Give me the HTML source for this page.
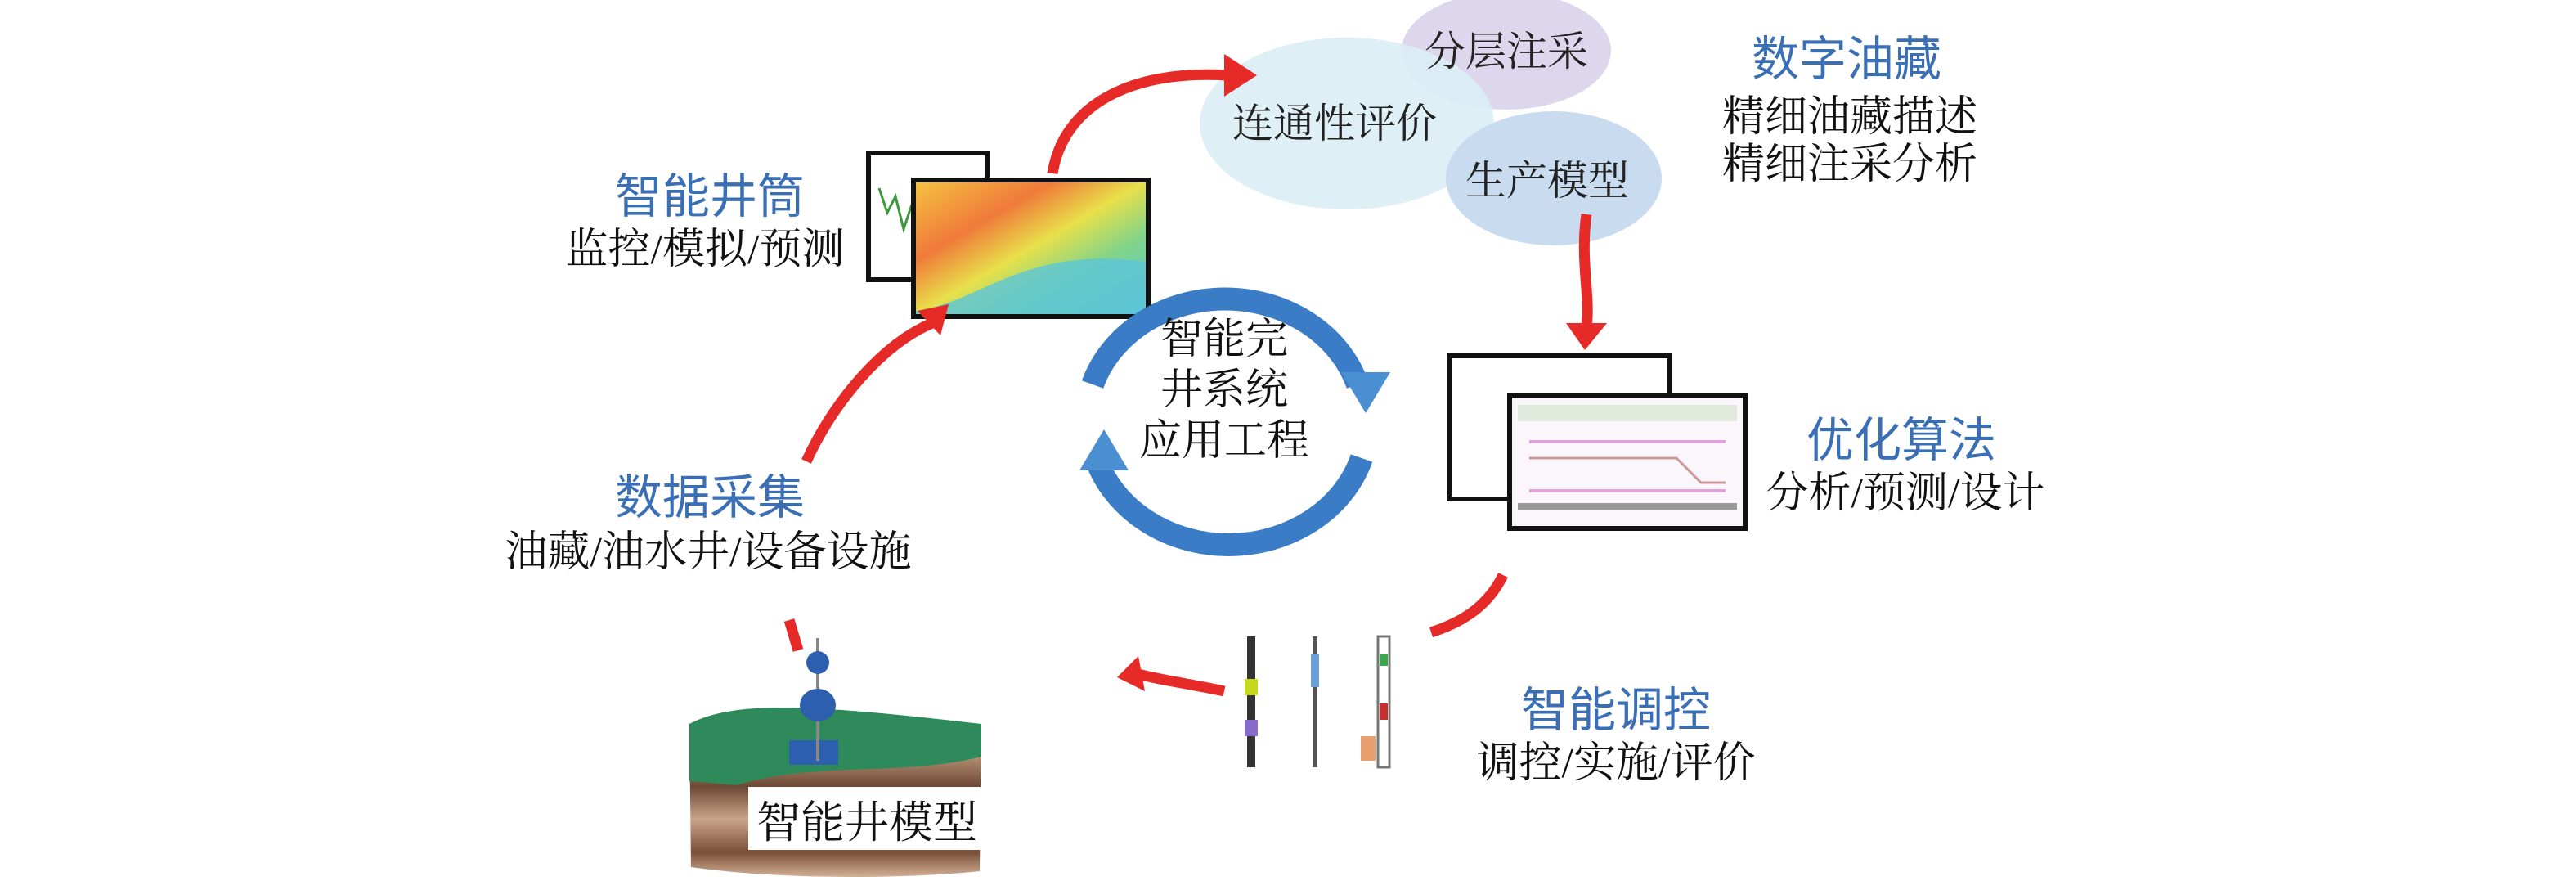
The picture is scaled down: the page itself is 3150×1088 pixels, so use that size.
<!DOCTYPE html>
<html><head><meta charset="utf-8"><style>
html,body{margin:0;padding:0;background:#fff;}
svg text{font-family:"Liberation Serif","Noto Serif CJK SC","Noto Sans CJK SC",serif;}
svg text.b{font-family:"Liberation Sans","Noto Sans CJK SC",sans-serif;fill:#3a6fb5;}
</style></head><body>
<svg width="3150" height="1083" viewBox="0 0 3150 1083" xmlns="http://www.w3.org/2000/svg">
<defs>
<linearGradient id="map" x1="0" y1="0" x2="1" y2="1">
<stop offset="0" stop-color="#f5c542"/><stop offset="0.3" stop-color="#f07a3a"/><stop offset="0.5" stop-color="#e8e04a"/><stop offset="0.7" stop-color="#7fd48a"/><stop offset="1" stop-color="#5cc6d8"/></linearGradient>
<linearGradient id="earth" x1="0" y1="0" x2="0" y2="1">
<stop offset="0" stop-color="#6e4a36"/><stop offset="0.25" stop-color="#b89478"/><stop offset="0.45" stop-color="#6e4a36"/><stop offset="0.65" stop-color="#c9a48a"/><stop offset="0.85" stop-color="#7a5038"/><stop offset="1" stop-color="#d2b096"/></linearGradient>
</defs>

<ellipse cx="1842" cy="62" rx="128" ry="72" fill="#dcd7ec"/>
<ellipse cx="1647" cy="151" rx="180" ry="105" fill="#dbeef5" opacity="0.92"/>
<ellipse cx="1900" cy="218" rx="132" ry="82" fill="#c9dcef"/>
<text x="1842" y="80" font-size="50" text-anchor="middle" fill="#222">分层注采</text>
<text x="1632" y="168" font-size="50" text-anchor="middle" fill="#222">连通性评价</text>
<text x="1892" y="238" font-size="50" text-anchor="middle" fill="#222">生产模型</text>

<text class="b" x="2258" y="92" font-size="58" text-anchor="middle">数字油藏</text>
<text x="2262" y="160" font-size="52" text-anchor="middle" fill="#111">精细油藏描述</text>
<text x="2262" y="218" font-size="52" text-anchor="middle" fill="#111">精细注采分析</text>

<text class="b" x="868" y="260" font-size="58" text-anchor="middle">智能井筒</text>
<text x="862" y="322" font-size="52" text-anchor="middle" fill="#111">监控/模拟/预测</text>

<rect x="1062" y="187" width="145" height="155" fill="#fff" stroke="#111" stroke-width="6"/>
<polyline points="1075,230 1085,260 1095,240 1105,280 1115,250" fill="none" stroke="#3a9a3a" stroke-width="3"/>
<rect x="1117" y="220" width="287" height="167" fill="url(#map)" stroke="#111" stroke-width="6"/>
<path d="M1120,380 C1200,370 1250,300 1401,320 L1401,384 L1120,384Z" fill="#5cc6d8" opacity="0.8"/>

<path d="M1336,470 A170,150 0 0 1 1660,470" fill="none" stroke="#3b7cc6" stroke-width="28"/>
<polygon points="1640,455 1700,455 1670,505" fill="#4a8fd2"/>
<path d="M1665,560 A170,150 0 0 1 1340,560" fill="none" stroke="#3b7cc6" stroke-width="28"/>
<polygon points="1320,575 1380,575 1350,525" fill="#4a8fd2"/>
<text x="1497" y="432" font-size="52" text-anchor="middle" fill="#111">智能完</text>
<text x="1497" y="494" font-size="52" text-anchor="middle" fill="#111">井系统</text>
<text x="1497" y="556" font-size="52" text-anchor="middle" fill="#111">应用工程</text>

<rect x="1772" y="435" width="270" height="175" fill="#fff" stroke="#111" stroke-width="6"/>
<rect x="1846" y="483" width="288" height="163" fill="#fbf6fb" stroke="#111" stroke-width="6"/>
<rect x="1856" y="495" width="268" height="20" fill="#dfe9dc"/>
<path d="M1870,540 L2110,540 M1870,600 L2110,600" stroke="#e0a0d8" stroke-width="4"/>
<path d="M1870,560 L2050,560 2080,590 2110,590" stroke="#c99" stroke-width="3" fill="none"/>
<rect x="1856" y="615" width="268" height="8" fill="#999"/>

<text class="b" x="2325" y="558" font-size="58" text-anchor="middle">优化算法</text>
<text x="2330" y="620" font-size="52" text-anchor="middle" fill="#111">分析/预测/设计</text>

<text class="b" x="868" y="628" font-size="58" text-anchor="middle">数据采集</text>
<text x="866" y="692" font-size="52" text-anchor="middle" fill="#111">油藏/油水井/设备设施</text>

<text class="b" x="1976" y="888" font-size="58" text-anchor="middle">智能调控</text>
<text x="1976" y="950" font-size="52" text-anchor="middle" fill="#111">调控/实施/评价</text>

<rect x="1525" y="778" width="10" height="160" fill="#333"/>
<rect x="1522" y="830" width="16" height="20" fill="#c8d820"/>
<rect x="1522" y="880" width="16" height="20" fill="#8a6acb"/>
<rect x="1605" y="778" width="6" height="160" fill="#555"/>
<rect x="1603" y="800" width="10" height="40" fill="#6aa0d8"/>
<rect x="1685" y="778" width="14" height="160" fill="#fff" stroke="#777" stroke-width="3"/>
<rect x="1687" y="800" width="10" height="14" fill="#3aa84a"/>
<rect x="1687" y="860" width="10" height="20" fill="#c83030"/>
<rect x="1664" y="900" width="18" height="30" fill="#e8a070"/>

<path d="M843,890 C900,860 1000,870 1200,890 L1198,1065 C1100,1075 950,1075 845,1060Z" fill="url(#earth)"/>
<path d="M843,885 C900,855 1000,862 1200,885 L1200,925 C1100,950 1000,930 900,960 L843,955Z" fill="#2e8a5a"/>
<rect x="965" y="905" width="60" height="30" fill="#2d5fae"/>
<line x1="1000" y1="780" x2="1000" y2="930" stroke="#888" stroke-width="4"/>
<ellipse cx="1000" cy="810" rx="14" ry="14" fill="#2d5fae"/>
<ellipse cx="1000" cy="862" rx="22" ry="20" fill="#2d5fae"/>
<rect x="915" y="962" width="289" height="77" fill="#fff"/>
<text x="1060" y="1024" font-size="54" text-anchor="middle" fill="#111">智能井模型</text>

<g fill="none" stroke="#e52a28" stroke-width="13" stroke-linecap="butt">
<path d="M1287,212 C1300,130 1380,85 1500,92"/>
<path d="M1940,262 C1932,320 1945,360 1940,400"/>
<path d="M1838,703 C1820,740 1790,760 1750,773"/>
<path d="M1497,845 C1450,835 1410,830 1385,822"/>
<path d="M965,758 L976,795"/>
<path d="M986,564 C1020,490 1080,420 1140,395"/>
</g>
<g fill="#e52a28">
<polygon points="1497,66 1537,92 1497,118"/>
<polygon points="1915,395 1965,395 1938,428"/>
<polygon points="1392,802 1366,828 1400,845"/>
<polygon points="1122,380 1160,372 1150,410"/>
</g>
</svg>
</body></html>
